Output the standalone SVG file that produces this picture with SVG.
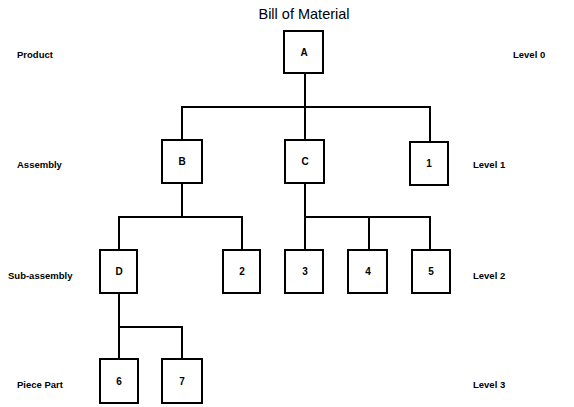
<svg xmlns="http://www.w3.org/2000/svg" width="574" height="407" viewBox="0 0 574 407">
  <style>
    .box { fill: #fff; stroke: #000; stroke-width: 2; }
    .lbl { font-family: "Liberation Sans", Arial, sans-serif; font-size: 10px; font-weight: bold; text-anchor: middle; fill: #000; }
    .side { font-family: "Liberation Sans", Arial, sans-serif; font-size: 9.5px; font-weight: bold; fill: #000; }
    .title { font-family: "Liberation Sans", Arial, sans-serif; font-size: 14.5px; text-anchor: middle; fill: #000; }
    .wire { fill: none; stroke: #000; stroke-width: 2; }
  </style>
  <rect width="574" height="407" fill="#fff"/>
  <text class="title" x="304" y="19">Bill of Material</text>

  <!-- level captions -->
  <g id="captions">
    <text class="side" x="17" y="58">Product</text>
    <text class="side" x="17" y="168">Assembly</text>
    <text class="side" x="8" y="279">Sub-assembly</text>
    <text class="side" x="17" y="388">Piece Part</text>
    <text class="side" x="513" y="58">Level 0</text>
    <text class="side" x="473" y="168">Level 1</text>
    <text class="side" x="473" y="279">Level 2</text>
    <text class="side" x="473" y="388">Level 3</text>
  </g>

  <!-- connectors -->
  <g id="connectors" class="wire">
    <path d="M305 73 V107 M182 140 V107 H430 V142 M305 107 V140"/>
    <path d="M182 183 V217 M119 250 V217 H242 V250"/>
    <path d="M305 183 V250 M305 217 H430 V250 M369 217 V250"/>
    <path d="M119 293 V359 M119 327 H182 V359"/>
  </g>

  <g id="node-A"><rect class="box" x="284" y="31" width="39" height="42"/><text class="lbl" x="304" y="56">A</text></g>
  <g id="node-B"><rect class="box" x="162" y="140" width="40" height="43"/><text class="lbl" x="182" y="165">B</text></g>
  <g id="node-C"><rect class="box" x="285" y="140" width="39" height="43"/><text class="lbl" x="305" y="165">C</text></g>
  <g id="node-1"><rect class="box" x="410" y="142" width="38" height="43"/><text class="lbl" x="429" y="167">1</text></g>
  <g id="node-D"><rect class="box" x="100" y="250" width="37" height="43"/><text class="lbl" x="119" y="275">D</text></g>
  <g id="node-2"><rect class="box" x="223" y="250" width="37" height="43"/><text class="lbl" x="242" y="275">2</text></g>
  <g id="node-3"><rect class="box" x="285" y="250" width="38" height="43"/><text class="lbl" x="305" y="275">3</text></g>
  <g id="node-4"><rect class="box" x="348" y="250" width="39" height="43"/><text class="lbl" x="368" y="275">4</text></g>
  <g id="node-5"><rect class="box" x="412" y="250" width="38" height="43"/><text class="lbl" x="431" y="275">5</text></g>
  <g id="node-6"><rect class="box" x="100" y="359" width="38" height="44"/><text class="lbl" x="119" y="385">6</text></g>
  <g id="node-7"><rect class="box" x="162" y="359" width="40" height="44"/><text class="lbl" x="182" y="385">7</text></g>
</svg>
